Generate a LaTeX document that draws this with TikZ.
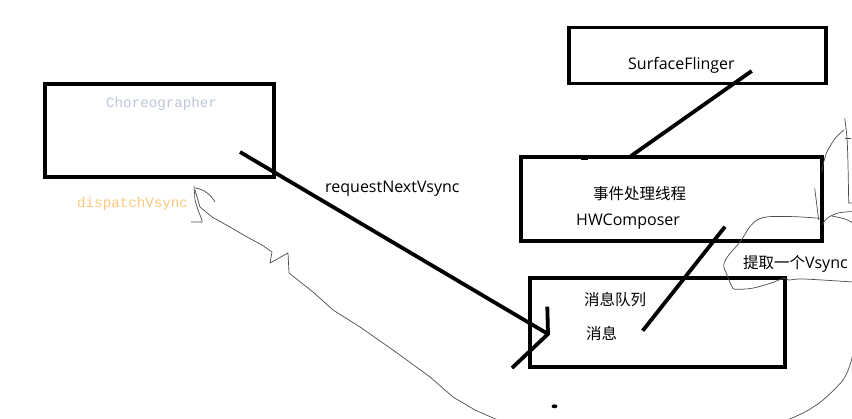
\documentclass[tikz,border=0pt]{standalone}
\usepackage{fontspec}
\setmainfont{Open Sans}
\newfontfamily\cjk{Noto Sans CJK SC}
\newfontfamily\monofnt{Liberation Mono}
\definecolor{choregray}{HTML}{BCC6D6}
\definecolor{dispatchorange}{HTML}{F9C97C}
\tikzset{
  box/.style={draw, line width=3.8pt, inner sep=0pt},
  stroke/.style={line width=3.8pt},
  pencil/.style={draw=black!70, line width=0.7pt, line join=round},
  lbl/.style={inner sep=0pt, font=\fontsize{16}{19}\selectfont},
  cjklbl/.style={inner sep=0pt, anchor=west, font=\cjk\fontsize{15.5}{18}\selectfont},
  monolbl/.style={inner sep=0pt, anchor=base west, font=\monofnt\fontsize{14.2}{16}\selectfont},
}
\begin{document}
\begin{tikzpicture}[x=1pt, y=-1pt]
  \useasboundingbox (0,0) rectangle (852,419);
  \clip (0,0) rectangle (852,419);
  % boxes
  \node[box, minimum width=229.6pt, minimum height=93pt] (chor) at (159.5,130.2) {};
  \node[box, minimum width=257pt, minimum height=56pt] (flinger) at (697.5,55.6) {};
  \node[box, minimum width=301pt, minimum height=84.3pt] (thread) at (671.2,198.8) {};
  \node[box, minimum width=255pt, minimum height=89.3pt] (queue) at (657.5,322.3) {};
  % texts
  \node[monolbl, text=choregray] (chortext) at (106,107.5) {Choreographer};
  \node[monolbl, text=dispatchorange] (dispatch) at (77,208) {dispatchVsync};
  \node[lbl, anchor=base west] (request) at (325,193) {requestNextVsync};
  \node[lbl, anchor=base west] (flingertext) at (628,70) {SurfaceFlinger};
  \node[cjklbl] (threadtext) at (593,193.5) {事件处理线程};
  \node[lbl, anchor=base west] (hwc) at (576,226) {HWComposer};
  \node[lbl, anchor=base west] (fetch) at (743,269) {{\cjk\fontsize{15.5}{18}\selectfont 提取一个}Vsync};
  \node[cjklbl] (queuetext) at (584,300) {消息队列};
  \node[cjklbl] (msg) at (586,334) {消息};
  % thick strokes
  \coordinate (reqA) at (240,152);
  \coordinate (reqB) at (548,334);
  \coordinate (tipUp) at (547.3,306.7);
  \coordinate (tipLow) at (512,368);
  \draw[stroke] (reqA) -- (reqB);
  \draw[stroke] (tipUp) -- (reqB) -- (tipLow);
  \coordinate (flingerA) at (751.7,71);
  \coordinate (flingerB) at (631,156);
  \draw[stroke] (flingerA) -- (flingerB);
  \coordinate (hwcA) at (725,226.7);
  \coordinate (hwcB) at (642.7,330.7);
  \draw[stroke] (hwcA) -- (hwcB);
  \fill (581,156.5) rectangle (588,160.5);
  \fill (554.5,406.3) ellipse (3pt and 2pt);
  % pencil strokes
  \draw[pencil] (195,190) -- (200,207) -- (212,217) -- (230,227) -- (247,237) -- (262,245)
    -- (272,252) -- (270,263) -- (288,253) -- (289,273) -- (313,292) -- (333,310)
    -- (360,327) -- (393,350) -- (430,377) -- (453,397) -- (475,410) -- (500,421);
  \draw[pencil] (194,186) -- (195,200) -- (198,210) -- (202,220) -- (202,222) -- (191,222);
  \draw[pencil] (195,188) .. controls (204,189) and (211,195) .. (215,202);
  \draw[pencil] plot[smooth, tension=0.5] coordinates {(785,421) (805,412) (823,400) (843,380) (851,362) (853,350)};
  \draw[pencil] plot[smooth, tension=0.5] coordinates {(844.7,118.3) (847,138) (848,165) (848.7,203)} -- (853,203);
  \draw[pencil] (845,138) -- (851,138);
  \draw[pencil] plot[smooth, tension=0.5] coordinates {(843.7,130) (835.3,138.3) (827,151.7) (823,165) (822,172)};
  \draw[pencil] (814.7,188.3) -- (818.7,220);
  \draw[pencil] plot[smooth, tension=0.5] coordinates {(820,218.3) (795.3,216.7) (768.7,216.7) (757,220)
    (748.7,228.3) (740.3,241.7) (728.7,255) (723.7,265) (727,275) (732,286.7) (735.3,289.3)
    (752,288.3) (770.3,283.3) (783.7,278.3) (788.7,280) (803.7,279) (853,282)};
  \draw[pencil] plot[smooth, tension=0.5] coordinates {(822,225) (827,218.3) (837,213.3) (848.7,211.7) (853,211.7)};
  \draw[pencil] plot[smooth, tension=0.5] coordinates {(832,216) (845,219) (853,223)};
\end{tikzpicture}
\end{document}
